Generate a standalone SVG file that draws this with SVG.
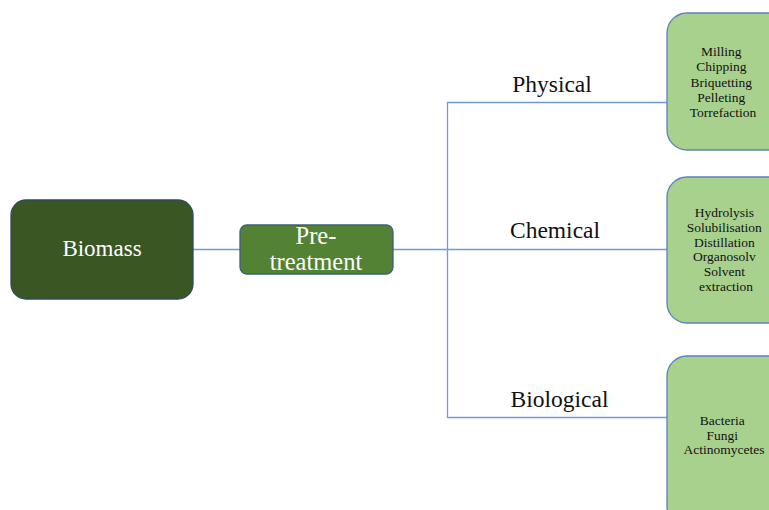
<svg xmlns="http://www.w3.org/2000/svg" width="769" height="510" viewBox="0 0 769 510">
  <style>
    .conn { stroke: #7598d8; stroke-width: 1.3; fill: none; }
    .branch { font-family: "Liberation Serif", "DejaVu Serif", serif; font-size: 23.5px; fill: #111; text-anchor: middle; }
    .main { font-family: "Liberation Serif", "DejaVu Serif", serif; fill: #ffffff; text-anchor: middle; }
    .leaf { fill: #a9d18e; stroke: #5b7fc0; stroke-width: 1.3; }
    .leaftxt { font-family: "Liberation Serif", "DejaVu Serif", serif; font-size: 13.5px; fill: #111; text-anchor: middle; }
  </style>
  <rect width="769" height="510" fill="#ffffff"/>

  <g id="connectors">
    <line class="conn" x1="193" y1="249.5" x2="240" y2="249.5"/>
    <line class="conn" x1="393" y1="249.5" x2="667" y2="249.5"/>
    <line class="conn" x1="447.5" y1="102.5" x2="447.5" y2="418"/>
    <line class="conn" x1="447" y1="102.5" x2="667" y2="102.5"/>
    <line class="conn" x1="447" y1="417.5" x2="667" y2="417.5"/>
  </g>

  <g id="biomass">
    <rect x="11" y="200" width="182" height="99" rx="15" fill="#3a5623" stroke="#2f4a5e" stroke-width="1.3"/>
    <text class="main" x="102" y="256" font-size="23px">Biomass</text>
  </g>

  <g id="pretreatment">
    <rect x="240" y="225" width="153" height="49" rx="7" fill="#548235" stroke="#3d5f7a" stroke-width="1.3"/>
    <text class="main" x="316" y="244" font-size="24.5px">Pre-</text>
    <text class="main" x="316" y="270" font-size="24.5px">treatment</text>
  </g>

  <g id="physical">
    <text class="branch" x="552" y="92">Physical</text>
    <rect class="leaf" x="667" y="13" width="130" height="137" rx="20"/>
    <text class="leaftxt">
      <tspan x="723" y="56">Milling</tspan>
      <tspan x="723" y="71.3">Chipping</tspan>
      <tspan x="723" y="86.6">Briquetting</tspan>
      <tspan x="723" y="101.9">Pelleting</tspan>
      <tspan x="723" y="117">Torrefaction</tspan>
    </text>
  </g>

  <g id="chemical">
    <text class="branch" x="555" y="238">Chemical</text>
    <rect class="leaf" x="667" y="177" width="130" height="146" rx="20"/>
    <text class="leaftxt">
      <tspan x="726" y="217">Hydrolysis</tspan>
      <tspan x="726" y="232">Solubilisation</tspan>
      <tspan x="726" y="246.7">Distillation</tspan>
      <tspan x="726" y="261.4">Organosolv</tspan>
      <tspan x="726" y="276">Solvent</tspan>
      <tspan x="726" y="290.7">extraction</tspan>
    </text>
  </g>

  <g id="biological">
    <text class="branch" x="559.5" y="407">Biological</text>
    <rect class="leaf" x="667" y="356" width="130" height="170" rx="20"/>
    <text class="leaftxt">
      <tspan x="724" y="425">Bacteria</tspan>
      <tspan x="724" y="439.5">Fungi</tspan>
      <tspan x="724" y="454">Actinomycetes</tspan>
    </text>
  </g>
</svg>
